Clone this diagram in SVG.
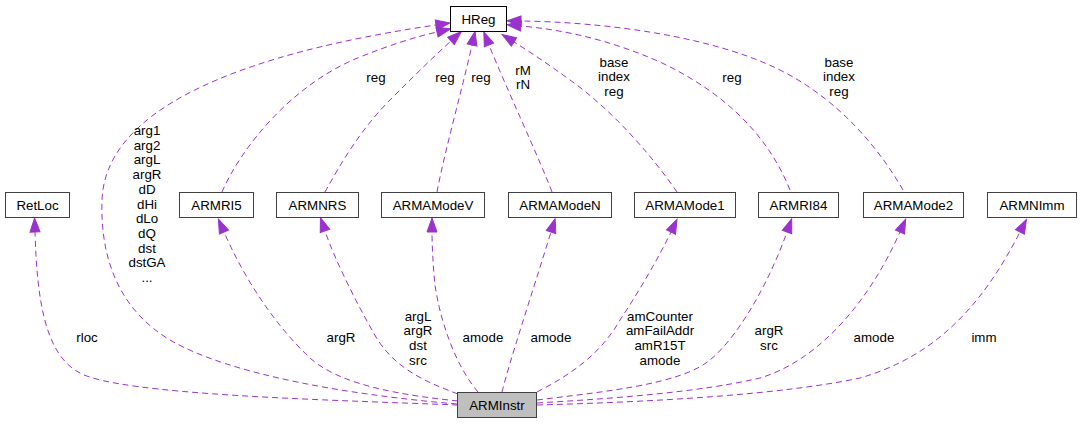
<svg xmlns="http://www.w3.org/2000/svg" width="1081" height="424" viewBox="0 0 1081 424">
<style>
.node rect{fill:#ffffff;stroke:#404040;stroke-width:1}
#HReg rect{stroke:#000000}
#ARMInstr rect{fill:#bfbfbf}
text{font-family:"Liberation Sans",Arial,sans-serif;font-size:13.33px;fill:#000000;text-anchor:middle}
.edge{fill:none;stroke:#9a32cd;stroke-width:1;stroke-dasharray:6,4;marker-end:url(#arr)}
</style>
<defs>
<marker id="arr" markerUnits="userSpaceOnUse" markerWidth="16" markerHeight="12" refX="0" refY="5" orient="auto" overflow="visible">
<path d="M0,0 L14,5 L0,10 z" fill="#9a32cd" stroke="#9a32cd" stroke-width="1"/>
</marker>
</defs>
<rect width="1081" height="424" fill="#ffffff"/>
<g id="connectors">
<path class="edge" d="M457,404 C350,395 230,375 170,340 C120,310 100,260 102,200 C106,90 300,45 436,25"/>
<path class="edge" d="M222,192 C240,150 290,85 360,57 C390,45 415,37 437,32"/>
<path class="edge" d="M325,192 C340,165 360,130 390,100 C410,80 430,60 451,41"/>
<path class="edge" d="M437,192 C445,150 462,90 472,45"/>
<path class="edge" d="M552,192 C540,160 505,85 489,45"/>
<path class="edge" d="M677,192 C655,160 615,112 570,80 C548,64 530,52 514,42"/>
<path class="edge" d="M790,190 C770,140 730,95 660,62 C610,40 565,30 521,26"/>
<path class="edge" d="M903,190 C880,150 840,100 780,70 C710,35 600,22 521,21"/>
<path class="edge" d="M458,405 C330,400 120,395 80,373 C45,355 37,300 35,232"/>
<path class="edge" d="M458,401 C400,395 340,385 310,358 C275,325 245,280 224,232"/>
<path class="edge" d="M458,394 C420,380 390,365 372,330 C355,300 335,260 325,231"/>
<path class="edge" d="M478,392 C455,365 440,320 435,285 C433,265 432,245 432,232"/>
<path class="edge" d="M502,392 C510,360 530,300 551,232"/>
<path class="edge" d="M537,392 C570,375 600,355 620,320 C640,290 660,255 671,232"/>
<path class="edge" d="M537,400 C600,392 680,385 710,360 C740,335 770,280 787,232"/>
<path class="edge" d="M537,403 C620,398 700,392 760,378 C820,360 870,300 900,232"/>
<path class="edge" d="M537,405 C650,402 780,395 860,378 C940,355 985,300 1020,232"/>
</g>
<g id="edge-labels">
<text x="147" y="135">arg1</text>
<text x="147" y="149.7">arg2</text>
<text x="147" y="164.4">argL</text>
<text x="147" y="179.1">argR</text>
<text x="147" y="193.8">dD</text>
<text x="147" y="208.5">dHi</text>
<text x="147" y="223.2">dLo</text>
<text x="147" y="237.9">dQ</text>
<text x="147" y="252.6">dst</text>
<text x="147" y="267.3">dstGA</text>
<text x="147" y="282">...</text>
<text x="376" y="81.5">reg</text>
<text x="445" y="81.5">reg</text>
<text x="481" y="81.5">reg</text>
<text x="523" y="74.5">rM</text>
<text x="523" y="89">rN</text>
<text x="614" y="66.5">base</text>
<text x="614" y="81.2">index</text>
<text x="614" y="95.9">reg</text>
<text x="732" y="81.5">reg</text>
<text x="839" y="66.5">base</text>
<text x="839" y="81.2">index</text>
<text x="839" y="95.9">reg</text>
<text x="87" y="342">rloc</text>
<text x="341" y="342">argR</text>
<text x="418" y="320.5">argL</text>
<text x="418" y="335.2">argR</text>
<text x="418" y="349.9">dst</text>
<text x="418" y="364.6">src</text>
<text x="483" y="342">amode</text>
<text x="551" y="342">amode</text>
<text x="660" y="320.5">amCounter</text>
<text x="660" y="335.2">amFailAddr</text>
<text x="660" y="349.9">amR15T</text>
<text x="660" y="364.6">amode</text>
<text x="769" y="335.2">argR</text>
<text x="769" y="349.9">src</text>
<text x="874" y="342">amode</text>
<text x="984" y="342">imm</text>
</g>
<g id="HReg" class="node"><rect x="450.5" y="6.5" width="56" height="25"/><text x="478.5" y="23.5">HReg</text></g>
<g id="RetLoc" class="node"><rect x="5.5" y="192.5" width="64" height="25"/><text x="37.5" y="209.5">RetLoc</text></g>
<g id="ARMRI5" class="node"><rect x="179.5" y="192.5" width="74" height="25"/><text x="216.5" y="209.5">ARMRI5</text></g>
<g id="ARMNRS" class="node"><rect x="276.5" y="192.5" width="82" height="25"/><text x="317.5" y="209.5">ARMNRS</text></g>
<g id="ARMAModeV" class="node"><rect x="381.5" y="192.5" width="103" height="25"/><text x="433" y="209.5">ARMAModeV</text></g>
<g id="ARMAModeN" class="node"><rect x="508.5" y="192.5" width="103" height="25"/><text x="560" y="209.5">ARMAModeN</text></g>
<g id="ARMAMode1" class="node"><rect x="634.5" y="192.5" width="101" height="25"/><text x="685" y="209.5">ARMAMode1</text></g>
<g id="ARMRI84" class="node"><rect x="758.5" y="192.5" width="80" height="25"/><text x="798.5" y="209.5">ARMRI84</text></g>
<g id="ARMAMode2" class="node"><rect x="863.5" y="192.5" width="100" height="25"/><text x="913.5" y="209.5">ARMAMode2</text></g>
<g id="ARMNImm" class="node"><rect x="987.5" y="192.5" width="89" height="25"/><text x="1032" y="209.5">ARMNImm</text></g>
<g id="ARMInstr" class="node"><rect x="457.5" y="392.5" width="79" height="25"/><text x="497" y="409.5">ARMInstr</text></g>
</svg>
